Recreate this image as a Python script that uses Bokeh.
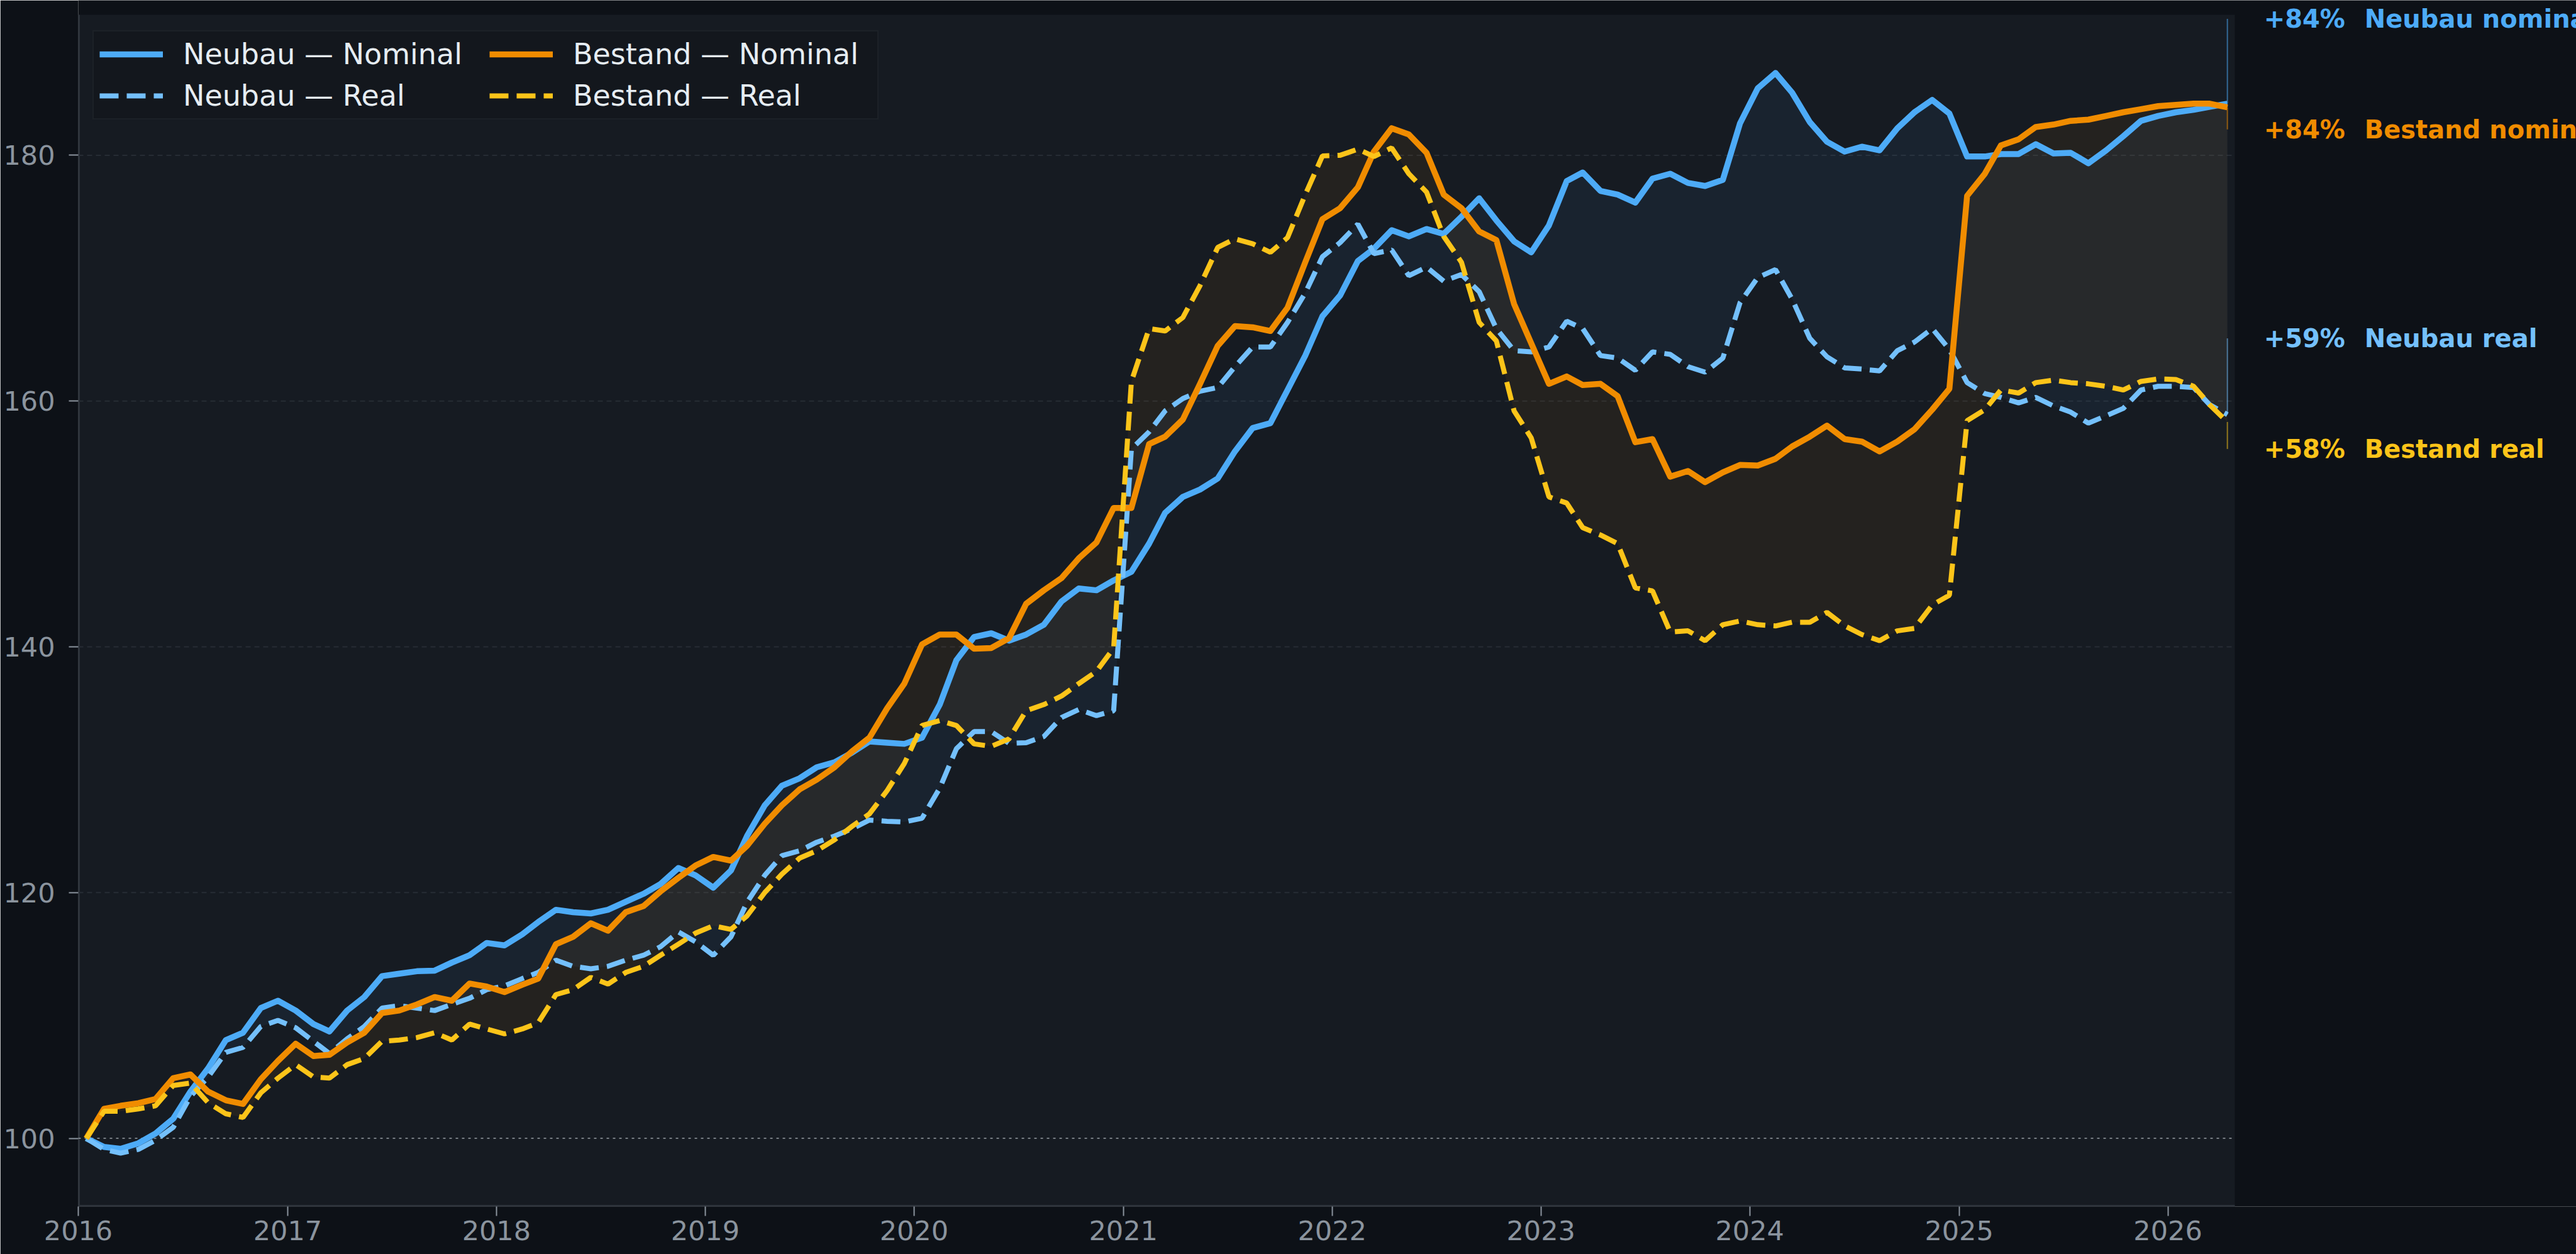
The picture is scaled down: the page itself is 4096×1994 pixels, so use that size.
import numpy as np
import pandas as pd
from bokeh.plotting import figure
from bokeh.models import (ColumnDataSource, FixedTicker, DatetimeTickFormatter, BoxAnnotation,
                          Legend, LegendItem, Range1d)
from bokeh.core.properties import value
from bokeh.embed import file_html
from bokeh.resources import INLINE

# ---------------- data ----------------
MONTHS = pd.date_range("2016-01-01", periods=124, freq="MS") + pd.Timedelta(days=14)

NEUBAU_NOMINAL = [
    100.0, 99.3, 99.15, 99.6, 100.4, 101.6, 103.8, 105.7, 108.0, 108.6, 110.6, 111.2,
    110.4, 109.3, 108.7, 110.4, 111.5, 113.2, 113.4, 113.6, 113.65, 114.3, 114.9, 115.9,
    115.7, 116.6, 117.6, 118.6, 118.4, 118.3, 118.6, 119.25, 119.9, 120.7, 122.0, 121.4,
    120.4, 121.8, 124.6, 127.1, 128.7, 129.3, 130.2, 130.6, 131.4, 132.3, 132.2, 132.1,
    132.6, 135.3, 138.9, 140.8, 141.1, 140.5, 141.0, 141.8, 143.7, 144.75, 144.6, 145.4,
    146.1, 148.4, 150.9, 152.2, 152.8, 153.7, 155.9, 157.8, 158.2, 160.9, 163.7, 166.9,
    168.6, 171.4, 172.4, 173.9, 173.4, 174.0, 173.6, 175.0, 176.5, 174.7, 173.0, 172.1,
    174.3, 177.9, 178.6, 177.1, 176.8, 176.15, 178.1, 178.5, 177.75, 177.5, 178.0, 182.6,
    185.45, 186.7, 185.1, 182.7, 181.1, 180.3, 180.7, 180.4, 182.2, 183.5, 184.5, 183.4,
    179.9, 179.9, 180.1, 180.1, 180.9, 180.15, 180.2, 179.35, 180.4, 181.55, 182.8, 183.2,
    183.5, 183.7, 183.95, 184.2,
]
NEUBAU_REAL = [
    100.0, 99.1, 98.8, 99.1, 99.85, 100.9, 103.4, 105.0, 107.0, 107.4, 109.1, 109.6,
    109.0, 107.9, 106.9, 108.1, 109.1, 110.6, 110.8, 110.6, 110.4, 110.9, 111.4, 112.1,
    112.4, 113.0, 113.5, 114.5, 114.0, 113.8, 114.0, 114.5, 114.9, 115.6, 116.8, 116.0,
    114.9, 116.4, 119.2, 121.4, 123.0, 123.4, 124.1, 124.6, 125.2, 125.9, 125.8, 125.75,
    126.05, 128.5, 131.7, 133.1, 133.1, 132.15, 132.2, 132.7, 134.25, 134.9, 134.4, 134.8,
    156.1, 157.5, 159.2, 160.2, 160.8, 161.1, 162.8, 164.4, 164.4, 166.4, 168.8, 171.75,
    172.9, 174.4, 172.0, 172.3, 170.2, 170.9, 169.75, 170.3, 168.9, 165.9, 164.1, 164.0,
    164.4, 166.5, 165.9, 163.7, 163.5, 162.5, 164.0, 163.8, 162.8, 162.35, 163.5, 168.0,
    170.05, 170.7, 168.3, 165.1, 163.6, 162.7, 162.6, 162.45, 164.1, 164.8, 165.9, 164.2,
    161.5, 160.6, 160.3, 159.85, 160.3, 159.6, 159.1, 158.2, 158.8, 159.4, 160.9, 161.2,
    161.2, 161.1, 159.7, 158.9,
]
BESTAND_NOMINAL = [
    100.0, 102.4, 102.65, 102.86, 103.2, 104.9, 105.2, 103.8, 103.1, 102.8, 104.8, 106.3,
    107.7, 106.7, 106.8, 107.8, 108.6, 110.2, 110.4, 110.9, 111.5, 111.2, 112.6, 112.35,
    111.9, 112.5, 113.0, 115.8, 116.4, 117.5, 116.9, 118.4, 118.9, 120.1, 121.2, 122.2,
    122.9, 122.6, 123.8, 125.6, 127.1, 128.4, 129.2, 130.2, 131.5, 132.6, 135.0, 137.0,
    140.2, 141.0, 141.0, 139.85, 139.9, 140.7, 143.5, 144.6, 145.6, 147.2, 148.5, 151.3,
    151.3, 156.5, 157.1, 158.5, 161.4, 164.5, 166.1, 166.0, 165.7, 167.6, 171.3, 174.8,
    175.7, 177.4, 180.3, 182.2, 181.7, 180.2, 176.8, 175.7, 173.8, 173.1, 167.9, 164.7,
    161.4, 162.0, 161.3, 161.4, 160.4, 156.65, 156.9, 153.85, 154.3, 153.4, 154.2, 154.8,
    154.75, 155.3, 156.3, 157.1, 158.0, 156.9, 156.7, 155.9, 156.7, 157.7, 159.3, 161.0,
    176.7, 178.5, 180.8, 181.3, 182.3, 182.5, 182.8, 182.9, 183.2, 183.5, 183.75, 184.0,
    184.1, 184.2, 184.2, 183.9,
]
BESTAND_REAL = [
    100.0, 102.2, 102.2, 102.4, 102.65, 104.3, 104.5, 102.9, 102.0, 101.7, 103.7, 104.9,
    106.0, 105.0, 104.9, 106.0, 106.5, 107.9, 108.0, 108.2, 108.6, 108.0, 109.3, 108.9,
    108.5, 108.9, 109.4, 111.7, 112.1, 113.1, 112.55, 113.5, 114.0, 114.9, 115.8, 116.7,
    117.3, 117.0, 118.1, 120.0, 121.5, 122.8, 123.4, 124.3, 125.4, 126.4, 128.3, 130.5,
    133.6, 134.0, 133.6, 132.1, 131.9, 132.5, 134.8, 135.3, 136.0, 137.0, 138.0, 139.9,
    161.6, 165.9, 165.7, 166.8, 169.4, 172.5, 173.2, 172.8, 172.1, 173.3, 176.8, 179.95,
    180.0, 180.5, 179.9, 180.6, 178.5, 177.0, 173.4, 171.3, 166.4, 164.9, 159.2, 157.0,
    152.2, 151.7, 149.7, 149.1, 148.4, 144.8, 144.55, 141.2, 141.3, 140.5, 141.8, 142.1,
    141.8, 141.7, 142.0, 142.0, 142.8, 141.7, 141.0, 140.5, 141.3, 141.5, 143.4, 144.2,
    158.4, 159.3, 160.9, 160.65, 161.5, 161.7, 161.5, 161.4, 161.2, 160.9, 161.6, 161.8,
    161.75, 161.2, 159.7, 158.3,
]

YEAR_TICKS = list(range(2016, 2027))
Y_TICKS = [100, 120, 140, 160, 180]
GRID_Y = [120, 140, 160, 180]
BASELINE = 100
LEGEND_LABELS = ["Neubau — Nominal", "Neubau — Real", "Bestand — Nominal", "Bestand — Real"]
END_NAMES = ["Neubau nominal", "Bestand nominal", "Neubau real", "Bestand real"]
END_LABEL_Y = [191.1, 182.1, 165.1, 156.1]

# ---------------- style / layout ----------------
C_NN = "#4dabf7"
C_NR = "#74c0fc"
C_BN = "#f08c00"
C_BR = "#fcc419"
FONT = "DejaVu Sans"
PAGE_BG = "#0d1117"
PLOT_BG = "#161b22"

W, H = 4096, 1994
BORDER_L, BORDER_B = 124, 76
PLOT_TOP_PX = 23          # top of the plot area (canvas px)
PLOT_RIGHT_PX = 3553      # right edge of the plot area (canvas px)
PX_100, PX_180 = 1809.6, 246.4   # canvas rows of the 100 / 180 levels
ppu = (PX_100 - PX_180) / 80.0
val_at = lambda py: 180 - (py - PX_180) / ppu

frame_bottom = H - BORDER_B
Y_BOTTOM = val_at(frame_bottom)
Y_TOP = val_at(0)
Y_PLOT_TOP = val_at(PLOT_TOP_PX)

x_start = pd.Timestamp("2016-01-01")
x_plot_end = MONTHS[-1] + pd.Timedelta(days=13)
ms = lambda t: pd.Timestamp(t).value / 1e6
xs_ms, xe_ms = ms(x_start), ms(x_plot_end)
plot_w = PLOT_RIGHT_PX - BORDER_L
x_range_end = xs_ms + (xe_ms - xs_ms) * (W - BORDER_L) / plot_w

src = ColumnDataSource(dict(x=MONTHS, nn=NEUBAU_NOMINAL, nr=NEUBAU_REAL,
                            bn=BESTAND_NOMINAL, br=BESTAND_REAL))

p = figure(width=W, height=H, x_axis_type="datetime",
           x_range=Range1d(xs_ms, x_range_end), y_range=Range1d(Y_BOTTOM, Y_TOP),
           output_backend="svg", toolbar_location=None,
           min_border_left=BORDER_L, min_border_right=0, min_border_top=0,
           min_border_bottom=BORDER_B,
           background_fill_color=PAGE_BG, border_fill_color=PAGE_BG,
           outline_line_color=None)
p.grid.visible = False

# plot area background
p.add_layout(BoxAnnotation(left=xs_ms, right=xe_ms, bottom=Y_BOTTOM, top=Y_PLOT_TOP,
                           fill_color=PLOT_BG, fill_alpha=1.0, line_color=None,
                           level="underlay"))

# axes (ticks + labels from the library)
year_ms = [ms(f"{y}-01-01") for y in YEAR_TICKS]
p.xaxis.ticker = FixedTicker(ticks=year_ms)
fmt = "%Y"
p.xaxis.formatter = DatetimeTickFormatter(years=fmt, months=fmt, days=fmt, hours=fmt,
                                          minutes=fmt, seconds=fmt, milliseconds=fmt,
                                          microseconds=fmt, hourmin=fmt, minsec=fmt)
p.yaxis.ticker = FixedTicker(ticks=Y_TICKS)
for ax in (p.xaxis[0], p.yaxis[0]):
    ax.axis_line_color = None
    ax.major_tick_line_color = "#8b949e"
    ax.major_tick_line_width = 2
    ax.major_tick_out = 15
    ax.major_tick_in = 0
    ax.minor_tick_line_color = None
    ax.major_label_text_font = FONT
    ax.major_label_text_font_size = "43px"
    ax.major_label_text_color = "#8b949e"
p.xaxis.major_label_standoff = 7
p.yaxis.major_label_standoff = 22

# spines (left / bottom of the plot area only)
p.segment(x0=[xs_ms, xs_ms], y0=[Y_BOTTOM, Y_BOTTOM], x1=[xs_ms, xe_ms],
          y1=[Y_PLOT_TOP, Y_BOTTOM], line_color="#2d333b", line_width=5)

# horizontal grid, limited to the plot area
p.segment(x0=[xs_ms] * len(GRID_Y), y0=GRID_Y, x1=[xe_ms] * len(GRID_Y), y1=GRID_Y,
          line_color="#262c34", line_width=2, line_dash="8 6")
# baseline 100
p.segment(x0=[xs_ms], y0=[BASELINE], x1=[xe_ms], y1=[BASELINE],
          line_color="#9aa0a6", line_alpha=0.75, line_width=2, line_dash="4 6")

# fills between nominal and real
p.varea(x="x", y1="nn", y2="nr", source=src, fill_color=C_NN, fill_alpha=0.06)
p.varea(x="x", y1="bn", y2="br", source=src, fill_color=C_BN, fill_alpha=0.065)

# leader lines at the end
last_x = MONTHS[-1]
end_vals = [NEUBAU_NOMINAL[-1], BESTAND_NOMINAL[-1], NEUBAU_REAL[-1], BESTAND_REAL[-1]]
end_cols = [C_NN, C_BN, C_NR, C_BR]
p.segment(x0=[last_x] * 4, y0=end_vals, x1=[last_x] * 4, y1=END_LABEL_Y,
          line_color=end_cols, line_alpha=0.55, line_width=2)

# lines
r_nn = p.line("x", "nn", source=src, line_color=C_NN, line_width=9.5, line_join="round")
r_nr = p.line("x", "nr", source=src, line_color=C_NR, line_width=8, line_dash="30 13")
r_bn = p.line("x", "bn", source=src, line_color=C_BN, line_width=9.5, line_join="round")
r_br = p.line("x", "br", source=src, line_color=C_BR, line_width=8, line_dash="30 13")

# end labels (to the right of the plot area)
pcts = [f"+{round(v - 100):d}%" for v in end_vals]
lab_src = ColumnDataSource(dict(x=[last_x] * 4, y=END_LABEL_Y, pct=pcts, name=END_NAMES,
                                col=end_cols))
p.text(x="x", y="y", text="pct", source=lab_src, text_color="col", x_offset=58,
       text_font=value(FONT), text_font_size=value("40px"), text_font_style="bold",
       text_baseline="middle", text_align="left")
p.text(x="x", y="y", text="name", source=lab_src, text_color="col", x_offset=218,
       text_font=value(FONT), text_font_size=value("40px"), text_font_style="bold",
       text_baseline="middle", text_align="left")

legend = Legend(items=[LegendItem(label=LEGEND_LABELS[0], renderers=[r_nn]),
                       LegendItem(label=LEGEND_LABELS[1], renderers=[r_nr]),
                       LegendItem(label=LEGEND_LABELS[2], renderers=[r_bn]),
                       LegendItem(label=LEGEND_LABELS[3], renderers=[r_br])],
                location=(23, frame_bottom - 190), orientation="vertical", ncols=2,
                padding=9, spacing=12,
                glyph_width=101, glyph_height=40, label_standoff=32, label_width=475,
                label_text_font=FONT, label_text_font_size="46px",
                label_text_color="#e6edf3",
                background_fill_color="#13171d", background_fill_alpha=1.0,
                border_line_color="#262b32", border_line_width=2)
p.add_layout(legend)

open("out.html", "w").write(file_html(p, INLINE))
